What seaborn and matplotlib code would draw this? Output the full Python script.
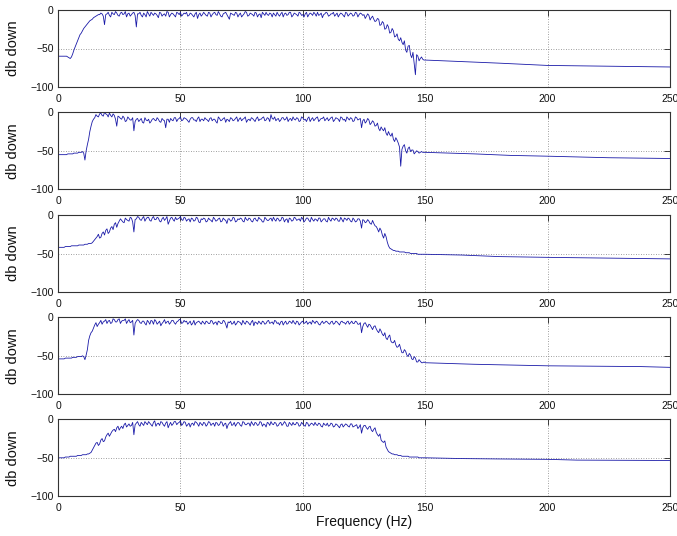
import matplotlib
matplotlib.use("Agg")
import matplotlib.pyplot as plt
import seaborn as sns
import pandas as pd

# ---------------- data ----------------
# readings at whole Hz (0..149) and at the half Hz in between (0.5..149.5)
dense_hz = [float(k) for k in range(150)]
half_hz = [k + 0.5 for k in range(150)]

p1_db = [-60,-60,-60,-60,-61,-63,-57,-48,-40,-32,
         -27,-22,-18,-14,-12,-9,-7,-6,-5,-19,
         -5,-7,-3,-6,-4,-8,-3,-5,-9,-4,
         -6,-3,-22,-5,-7,-4,-9,-5,-3,-7,
         -5,-10,-4,-6,-8,-3,-6,-5,-9,-4,
         -3,-6,-5,-8,-4,-7,-5,-11,-4,-6,
         -5,-8,-4,-6,-3,-7,-5,-9,-4,-6,
         -12,-5,-7,-4,-6,-9,-5,-3,-7,-5,
         -8,-4,-6,-10,-5,-3,-7,-5,-4,-8,
         -6,-5,-9,-4,-6,-3,-7,-5,-8,-4,
         -6,-5,-9,-4,-7,-5,-3,-6,-10,-5,
         -4,-7,-5,-8,-4,-6,-5,-9,-4,-6,
         -5,-7,-4,-6,-5,-6,-8,-7,-10,-12,
         -14,-12,-19,-17,-24,-22,-29,-27,-34,-38,
         -36,-45,-52,-47,-58,-55,-84,-60,-63,-64]
p1_half_db = [-60,-60,-60,-60,-62,-61,-52,-44,-36,-30,
              -24,-20,-16,-13,-10,-8,-6,-4,-8,-6,
              -3,-9,-5,-2,-7,-4,-6,-2,-5,-8,
              -4,-7,-5,-3,-9,-6,-2,-8,-5,-4,
              -7,-3,-8,-5,-2,-9,-4,-7,-3,-6,
              -8,-4,-3,-7,-5,-9,-3,-6,-8,-3,
              -7,-3,-9,-4,-6,-2,-8,-5,-3,-9,
              -4,-6,-3,-9,-4,-7,-2,-8,-4,-6,
              -3,-9,-5,-3,-7,-6,-4,-9,-6,-3,
              -8,-3,-5,-7,-3,-9,-4,-6,-3,-7,
              -9,-3,-6,-5,-3,-8,-7,-4,-6,-3,
              -8,-5,-3,-6,-9,-4,-7,-3,-8,-4,
              -8,-3,-9,-4,-7,-11,-5,-13,-8,-15,
              -11,-20,-15,-25,-19,-30,-24,-35,-31,-40,
              -42,-40,-55,-46,-62,-70,-58,-66,-61,-65]
p1_tail_hz = [150, 165, 180, 200, 225, 250]
p1_tail_db = [-65, -67, -69, -72, -73, -74]

p2_db = [-55,-55,-55,-55,-54,-54,-54,-53,-53,-52,
         -51,-62,-42,-25,-12,-7,-5,-2,-4,0,
         -3,-1,-6,-4,-18,-6,-9,-7,-11,-8,
         -10,-24,-9,-12,-8,-14,-10,-9,-12,-8,
         -11,-9,-13,-10,-20,-9,-8,-11,-7,-9,
         -6,-10,-8,-11,-9,-7,-10,-8,-12,-9,
         -7,-10,-8,-11,-9,-14,-8,-10,-7,-9,
         -12,-8,-10,-6,-9,-11,-8,-13,-9,-7,
         -10,-8,-11,-9,-6,-10,-8,-3,-9,-11,
         -8,-10,-7,-9,-12,-8,-6,-10,-8,-11,
         -7,-9,-8,-12,-7,-9,-6,-10,-8,-11,
         -7,-9,-6,-10,-8,-12,-7,-9,-6,-10,
         -8,-11,-7,-9,-20,-9,-12,-10,-14,-13,
         -17,-21,-19,-24,-27,-25,-31,-35,-33,-40,
         -70,-44,-50,-47,-51,-49,-52,-51,-52,-52]
p2_half_db = [-55,-55,-55,-55,-54,-54,-53,-53,-52,-52,
              -53,-50,-35,-18,-9,-3,-6,-1,-5,-2,
              -6,-4,-2,-9,-5,-8,-5,-12,-6,-10,
              -7,-12,-8,-10,-13,-7,-11,-14,-9,-10,
              -7,-12,-8,-11,-9,-13,-10,-7,-12,-8,
              -11,-7,-9,-13,-7,-10,-12,-6,-9,-11,
              -9,-12,-7,-9,-12,-6,-11,-8,-13,-10,
              -7,-11,-8,-12,-7,-9,-6,-10,-11,-8,
              -12,-6,-9,-7,-11,-7,-12,-8,-6,-9,
              -12,-7,-10,-6,-9,-11,-9,-7,-12,-6,
              -10,-12,-6,-9,-11,-7,-12,-8,-6,-9,
              -11,-7,-12,-7,-9,-6,-10,-12,-8,-7,
              -12,-6,-10,-8,-11,-14,-8,-16,-11,-18,
              -14,-24,-22,-20,-30,-29,-27,-38,-36,-45,
              -48,-42,-53,-45,-49,-54,-50,-53,-51,-52]
p2_tail_hz = [150, 170, 185, 200, 225, 250]
p2_tail_db = [-52, -54, -56, -57, -59, -60]

p3_db = [-42,-42,-42,-41,-41,-41,-40,-40,-40,-39,
         -39,-38,-38,-37,-36,-32,-28,-30,-24,-26,
         -18,-22,-15,-12,-16,-8,-7,-10,-6,-8,
         -4,-22,-5,-3,-7,-2,-5,-3,-8,-2,
         -6,-4,-9,-3,-5,-12,-4,-6,-3,-5,
         -2,-7,-4,-6,-9,-5,-7,-4,-10,-6,
         -5,-8,-6,-9,-5,-7,-4,-8,-6,-11,
         -5,-7,-4,-8,-6,-5,-9,-6,-4,-8,
         -5,-7,-3,-6,-9,-5,-7,-4,-3,-8,
         -5,-7,-4,-6,-10,-5,-7,-4,-6,-8,
         -5,-7,-4,-9,-6,-5,-8,-4,-7,-5,
         -9,-6,-4,-7,-5,-8,-6,-4,-7,-5,
         -9,-6,-8,-5,-17,-7,-9,-8,-12,-11,
         -15,-22,-20,-30,-28,-40,-44,-46,-47,-47,
         -48,-48,-49,-49,-50,-50,-50,-51,-51,-51]
p3_half_db = [-42,-42,-42,-41,-41,-40,-40,-40,-39,-39,
              -39,-38,-37,-37,-34,-30,-25,-29,-22,-20,
              -24,-17,-19,-10,-11,-5,-9,-4,-7,-3,
              -9,-6,-2,-6,-4,-8,-3,-7,-4,-6,
              -3,-8,-5,-7,-2,-8,-3,-8,-6,-4,
              -6,-3,-8,-5,-4,-8,-3,-9,-5,-4,
              -9,-4,-7,-3,-8,-5,-9,-4,-7,-5,
              -8,-3,-9,-5,-4,-8,-3,-7,-5,-9,
              -4,-8,-5,-9,-3,-7,-5,-8,-6,-4,
              -8,-3,-9,-5,-4,-8,-3,-7,-5,-3,
              -9,-4,-7,-3,-8,-6,-4,-9,-5,-8,
              -3,-8,-5,-4,-8,-3,-9,-5,-4,-8,
              -4,-9,-5,-8,-6,-10,-6,-11,-7,-14,
              -18,-17,-26,-24,-35,-43,-45,-46,-47,-48,
              -48,-48,-49,-49,-50,-50,-50,-51,-51,-51]
p3_tail_hz = [150, 165, 180, 200, 225, 250]
p3_tail_db = [-51, -52, -54, -55, -56, -57]

p4_db = [-54,-54,-54,-53,-53,-53,-52,-52,-51,-51,
         -50,-55,-42,-24,-18,-10,-12,-7,-9,-5,
         -8,-4,-7,-3,-6,-2,-5,-4,-8,-3,
         -6,-23,-5,-4,-8,-5,-10,-6,-4,-9,
         -5,-7,-11,-6,-8,-5,-7,-4,-9,-5,
         -3,-7,-6,-9,-5,-8,-10,-6,-7,-5,
         -9,-6,-8,-5,-7,-10,-6,-8,-5,-14,
         -7,-9,-5,-8,-6,-10,-7,-5,-8,-6,
         -11,-7,-5,-9,-6,-8,-4,-7,-9,-5,
         -7,-6,-10,-5,-8,-6,-4,-9,-6,-8,
         -5,-7,-9,-6,-4,-8,-6,-10,-5,-7,
         -6,-9,-5,-8,-6,-10,-5,-7,-6,-9,
         -5,-8,-6,-9,-20,-8,-10,-9,-13,-12,
         -15,-20,-18,-24,-27,-25,-31,-33,-36,-38,
         -41,-46,-44,-51,-49,-55,-53,-58,-57,-59]
p4_half_db = [-54,-54,-54,-53,-53,-53,-52,-52,-51,-51,
              -51,-49,-30,-20,-14,-7,-9,-4,-6,-3,
              -5,-8,-2,-6,-3,-8,-4,-2,-5,-7,
              -4,-8,-3,-7,-5,-8,-4,-9,-5,-3,
              -9,-5,-8,-3,-6,-9,-4,-7,-6,-3,
              -8,-4,-5,-7,-10,-4,-7,-5,-9,-7,
              -5,-8,-4,-9,-6,-5,-8,-4,-9,-6,
              -5,-8,-10,-5,-7,-4,-9,-6,-10,-4,
              -6,-9,-7,-5,-9,-5,-8,-6,-4,-8,
              -10,-5,-7,-9,-5,-8,-7,-5,-10,-6,
              -8,-5,-7,-9,-6,-5,-9,-7,-8,-5,
              -8,-6,-9,-5,-8,-6,-7,-9,-5,-7,
              -8,-5,-9,-7,-12,-7,-13,-10,-16,-11,
              -18,-15,-22,-20,-29,-23,-33,-30,-39,-35,
              -46,-42,-49,-47,-54,-51,-58,-55,-59,-58]
p4_tail_hz = [150, 170, 185, 200, 238, 250]
p4_tail_db = [-59, -61, -62, -63, -64, -65]

p5_db = [-50,-50,-50,-49,-49,-48,-48,-48,-47,-47,
         -46,-46,-45,-44,-40,-34,-30,-32,-25,-28,
         -20,-22,-16,-13,-11,-14,-9,-7,-10,-6,
         -8,-20,-5,-7,-4,-8,-5,-3,-7,-4,
         -9,-5,-3,-7,-5,-11,-4,-6,-3,-5,
         -2,-6,-4,-7,-10,-5,-3,-6,-4,-8,
         -5,-7,-4,-6,-9,-5,-7,-4,-6,-12,
         -5,-8,-4,-6,-5,-9,-4,-7,-5,-3,
         -8,-5,-7,-4,-6,-10,-5,-3,-7,-5,
         -8,-4,-6,-5,-9,-6,-4,-7,-5,-8,
         -6,-9,-5,-7,-6,-4,-8,-6,-10,-7,
         -5,-8,-6,-9,-7,-11,-6,-8,-7,-10,
         -6,-9,-7,-10,-18,-8,-11,-10,-14,-13,
         -17,-22,-27,-30,-36,-42,-44,-45,-46,-47,
         -47,-48,-48,-48,-49,-49,-49,-49,-50,-50]
p5_half_db = [-50,-50,-50,-49,-49,-48,-48,-48,-47,-47,
              -46,-46,-45,-43,-37,-31,-34,-27,-29,-23,
              -18,-19,-14,-16,-9,-11,-12,-5,-8,-9,
              -4,-7,-3,-9,-6,-3,-7,-5,-9,-2,
              -6,-8,-4,-9,-3,-7,-8,-3,-7,-4,
              -8,-3,-9,-5,-6,-8,-4,-9,-6,-4,
              -9,-3,-8,-5,-4,-8,-3,-9,-5,-7,
              -3,-7,-9,-4,-8,-3,-7,-5,-9,-6,
              -4,-8,-3,-9,-7,-4,-8,-6,-4,-9,
              -5,-8,-3,-9,-4,-8,-7,-4,-9,-4,
              -8,-4,-9,-5,-8,-7,-5,-9,-5,-8,
              -9,-5,-10,-6,-9,-7,-10,-6,-9,-6,
              -10,-8,-12,-7,-11,-8,-13,-9,-16,-11,
              -20,-19,-29,-28,-39,-43,-45,-46,-46,-47,
              -48,-48,-48,-49,-49,-49,-49,-50,-50,-50]
p5_tail_hz = [150, 165, 180, 200, 212, 250]
p5_tail_db = [-50, -51, -51.5, -52, -53, -53.5]

x_ticks = [0, 50, 100, 150, 200, 250]
y_ticks = [-100, -50, 0]
y_label = "db down"
x_label = "Frequency (Hz)"

panels = [(p1_db, p1_half_db, p1_tail_hz, p1_tail_db),
          (p2_db, p2_half_db, p2_tail_hz, p2_tail_db),
          (p3_db, p3_half_db, p3_tail_hz, p3_tail_db),
          (p4_db, p4_half_db, p4_tail_hz, p4_tail_db),
          (p5_db, p5_half_db, p5_tail_hz, p5_tail_db)]

# ---------------- style ----------------
sns.set_style("white")
plt.rcParams["font.family"] = ["Liberation Sans", "DejaVu Sans"]

fig = plt.figure(figsize=(6.77, 5.36), dpi=100)
W, H = 677.0, 536.0
left_px, right_px = 58.0, 670.0
tops_px = [10.0, 112.3, 215.0, 317.3, 419.3]
ax_h_px = 77.0

line_color = "#1a1aa8"

for i, (whole, half, thz, tdb) in enumerate(panels):
    top = tops_px[i]
    ax = fig.add_axes([left_px / W, 1 - (top + ax_h_px) / H,
                       (right_px - left_px) / W, ax_h_px / H])
    df = pd.DataFrame({"hz": dense_hz + half_hz + [float(t) for t in thz],
                       "db": whole + half + tdb})
    sns.lineplot(data=df, x="hz", y="db", ax=ax, color=line_color,
                 linewidth=0.6, estimator=None, sort=True)
    ax.set_xlim(0, 250)
    ax.set_ylim(-100, 0)
    ax.set_xticks(x_ticks)
    ax.set_yticks(y_ticks)
    ax.set_xticklabels([str(t) for t in x_ticks])
    ax.set_yticklabels(["\u2212100", "\u221250", "0"])
    ax.grid(True, color="#808080", linestyle=(0, (1, 2)), linewidth=0.6)
    ax.tick_params(axis="both", direction="in", length=4, width=0.6,
                   top=True, right=True, labelsize=7.5, colors="#222222",
                   labelcolor="#111111")
    ax.tick_params(axis="x", pad=5)
    ax.tick_params(axis="y", pad=3)
    for sp in ax.spines.values():
        sp.set_color("#333333")
        sp.set_linewidth(0.8)
    ax.set_ylabel(y_label, fontsize=10.5, color="#111111")
    ax.yaxis.set_label_coords(-0.062, 0.5)
    if i == 4:
        ax.set_xlabel(x_label, fontsize=10, color="#111111")
        ax.xaxis.set_label_coords(0.5, -0.24)
    else:
        ax.set_xlabel("")

fig.savefig("out.png", dpi=100)
